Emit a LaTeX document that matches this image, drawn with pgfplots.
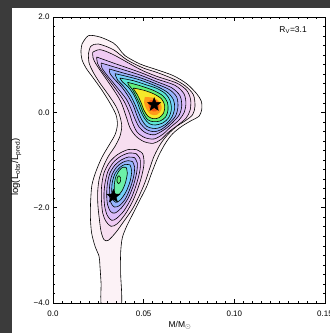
\documentclass[border=0pt]{standalone}
\usepackage{fontspec}
\setmainfont{Liberation Sans}
\usepackage{pgfplots}
\pgfplotsset{compat=1.18}
\definecolor{bgdark}{HTML}{3B3B3B}
\definecolor{cA}{HTML}{FCF2F6}
\definecolor{cB}{HTML}{F7DEF0}
\definecolor{cC}{HTML}{EFCAF3}
\definecolor{cD}{HTML}{DCBDF9}
\definecolor{cE}{HTML}{BCB2FB}
\definecolor{cF}{HTML}{96B4FC}
\definecolor{cG}{HTML}{74CFF9}
\definecolor{cH}{HTML}{5CE6D6}
\definecolor{cI}{HTML}{62EF78}
\definecolor{cM}{HTML}{6CF0A8}
\definecolor{cJ}{HTML}{F6E82A}
\definecolor{cK}{HTML}{FF9A1A}
\definecolor{cL}{HTML}{F55A12}
\pgfdeclareplotmark{fstar}{%
  \pgfpathmoveto{\pgfpointpolar{90}{\pgfplotmarksize}}%
  \pgfpathlineto{\pgfpointpolar{126}{0.42\pgfplotmarksize}}%
  \pgfpathlineto{\pgfpointpolar{162}{\pgfplotmarksize}}%
  \pgfpathlineto{\pgfpointpolar{198}{0.42\pgfplotmarksize}}%
  \pgfpathlineto{\pgfpointpolar{234}{\pgfplotmarksize}}%
  \pgfpathlineto{\pgfpointpolar{270}{0.42\pgfplotmarksize}}%
  \pgfpathlineto{\pgfpointpolar{306}{\pgfplotmarksize}}%
  \pgfpathlineto{\pgfpointpolar{342}{0.42\pgfplotmarksize}}%
  \pgfpathlineto{\pgfpointpolar{18}{\pgfplotmarksize}}%
  \pgfpathlineto{\pgfpointpolar{54}{0.42\pgfplotmarksize}}%
  \pgfpathclose
  \pgfusepathqfillstroke
}
\begin{document}
\begin{tikzpicture}
\useasboundingbox (0,0) rectangle (330bp,333bp);
\fill[bgdark] (0,0) rectangle (330bp,333bp);
\fill[white] (12bp,0) rectangle (330bp,325bp);
\begin{axis}[
  at={(53bp,30bp)}, anchor=south west, scale only axis,
  width=272bp, height=286bp,
  xmin=0, xmax=0.15, ymin=-4, ymax=2,
  xtick={0,0.05,0.1,0.15}, xticklabels={0.0,0.05,0.10,0.15},
  ytick={-4,-2,0,2}, yticklabels={−4.0,−2.0,0.0,2.0},
  minor x tick num=9, minor y tick num=9,
  tick align=inside,
  major tick length=4bp, minor tick length=2.2bp,
  tick style={black, line width=0.6bp},
  axis line style={line width=0.7bp},
  ticklabel style={font=\fontsize{8}{9}\selectfont},
  xticklabel style={yshift=-4bp},
  xlabel={M/M\textsubscript{\(\odot\)}},
  ylabel={log(L\textsubscript{obs}/L\textsubscript{pred})},
  xlabel style={font=\fontsize{8.5}{10}\selectfont, at={(axis description cs:0.467,-0.077)}, anchor=center},
  ylabel style={font=\fontsize{9.5}{11}\selectfont, at={(axis description cs:-0.135,0.475)}, anchor=center},
  axis on top,
  cont/.style={draw=black, line width=0.6bp, smooth, tension=0.5},
]
% L1
\addplot[cont, fill=cA] coordinates {
(0.0160,1.434)(0.0195,1.608)(0.0259,1.580)(0.0333,1.455)(0.0366,1.329)(0.0397,1.189)
(0.0480,1.014)(0.0572,0.895)(0.0664,0.769)(0.0737,0.601)(0.0792,0.392)(0.0818,0.231)
(0.0820,0.056)(0.0805,-0.084)(0.0765,-0.168)(0.0710,-0.294)(0.0660,-0.448)(0.0621,-0.643)
(0.0581,-0.923)(0.0544,-1.273)(0.0517,-1.552)(0.0480,-1.832)(0.0443,-2.112)(0.0406,-2.392)
(0.0382,-2.636)(0.0373,-2.951)(0.0373,-3.371)(0.0373,-4.1)(0.0272,-4.1)(0.0265,-3.580)
(0.0259,-3.231)(0.0254,-3.021)(0.0232,-2.811)(0.0213,-2.531)(0.0206,-2.182)(0.0208,-1.832)
(0.0215,-1.517)(0.0237,-1.238)(0.0268,-0.958)(0.0305,-0.713)(0.0342,-0.469)(0.0355,-0.259)
(0.0347,-0.049)(0.0314,0.196)(0.0268,0.476)(0.0222,0.720)(0.0182,0.930)(0.0160,1.105)
(0.0154,1.280)(0.0160,1.434)};
% L2
\addplot[cont, fill=cB] coordinates {
(0.0195,1.210)(0.0208,1.385)(0.0250,1.434)(0.0333,1.315)(0.0406,1.105)(0.0498,0.930)
(0.0572,0.839)(0.0664,0.699)(0.0728,0.559)(0.0774,0.371)(0.0783,0.126)(0.0770,-0.049)
(0.0733,-0.168)(0.0682,-0.294)(0.0636,-0.455)(0.0594,-0.657)(0.0557,-0.923)(0.0531,-1.203)
(0.0506,-1.483)(0.0474,-1.762)(0.0438,-2.028)(0.0392,-2.280)(0.0347,-2.517)(0.0305,-2.685)
(0.0281,-2.671)(0.0265,-2.497)(0.0256,-2.252)(0.0248,-1.972)(0.0246,-1.692)(0.0254,-1.413)
(0.0274,-1.168)(0.0305,-0.923)(0.0342,-0.713)(0.0369,-0.503)(0.0379,-0.294)(0.0369,-0.084)
(0.0347,0.126)(0.0305,0.371)(0.0256,0.629)(0.0219,0.860)(0.0199,1.035)(0.0195,1.210)};
% L3 upper
\addplot[cont, fill=cC] coordinates {
(0.0219,1.259)(0.0259,1.315)(0.0333,1.210)(0.0480,0.902)(0.0572,0.755)(0.0682,0.615)
(0.0737,0.462)(0.0759,0.266)(0.0756,0.042)(0.0733,-0.126)(0.0689,-0.266)(0.0636,-0.420)
(0.0594,-0.573)(0.0553,-0.650)(0.0502,-0.615)(0.0458,-0.503)(0.0425,-0.329)(0.0403,-0.084)
(0.0373,0.231)(0.0324,0.531)(0.0245,0.965)(0.0221,1.140)(0.0219,1.259)};
% L3 lower
\addplot[cont, fill=cC] coordinates {
(0.0461,-0.783)(0.0494,-0.867)(0.0502,-1.063)(0.0491,-1.308)(0.0469,-1.587)(0.0439,-1.867)
(0.0399,-2.133)(0.0355,-2.336)(0.0320,-2.392)(0.0292,-2.287)(0.0274,-2.112)(0.0267,-1.832)
(0.0268,-1.552)(0.0281,-1.273)(0.0311,-1.049)(0.0355,-0.888)(0.0412,-0.783)(0.0461,-0.783)};
% L4 upper
\addplot[cont, fill=cD] coordinates {
(0.0241,1.161)(0.0333,1.035)(0.0480,0.839)(0.0572,0.699)(0.0673,0.566)(0.0722,0.392)
(0.0733,0.182)(0.0722,-0.014)(0.0693,-0.168)(0.0649,-0.308)(0.0605,-0.462)(0.0557,-0.559)
(0.0507,-0.531)(0.0465,-0.420)(0.0439,-0.224)(0.0421,-0.014)(0.0392,0.231)(0.0342,0.510)
(0.0268,0.881)(0.0245,1.035)(0.0241,1.161)};
% L4 lower
\addplot[cont, fill=cD] coordinates {
(0.0458,-0.867)(0.0480,-0.979)(0.0480,-1.203)(0.0461,-1.497)(0.0432,-1.797)(0.0392,-2.063)
(0.0351,-2.224)(0.0324,-2.266)(0.0300,-2.168)(0.0285,-1.972)(0.0281,-1.727)(0.0287,-1.483)
(0.0303,-1.238)(0.0333,-1.049)(0.0373,-0.923)(0.0419,-0.853)(0.0458,-0.867)};
% L5 upper
\addplot[cont, fill=cE] coordinates {
(0.0265,1.035)(0.0351,0.937)(0.0480,0.783)(0.0572,0.643)(0.0654,0.517)(0.0700,0.350)
(0.0710,0.140)(0.0697,-0.049)(0.0664,-0.196)(0.0619,-0.350)(0.0561,-0.469)(0.0513,-0.434)
(0.0476,-0.315)(0.0450,-0.119)(0.0432,0.056)(0.0406,0.266)(0.0360,0.490)(0.0300,0.769)
(0.0270,0.930)(0.0265,1.035)};
% L5 lower
\addplot[cont, fill=cE] coordinates {
(0.0450,-0.951)(0.0465,-1.063)(0.0461,-1.273)(0.0443,-1.538)(0.0414,-1.804)(0.0377,-2.007)
(0.0342,-2.112)(0.0318,-2.084)(0.0301,-1.937)(0.0296,-1.727)(0.0300,-1.497)(0.0314,-1.273)
(0.0342,-1.105)(0.0379,-0.993)(0.0417,-0.937)(0.0450,-0.951)};
% L6 upper
\addplot[cont, fill=cF] coordinates {
(0.0311,0.909)(0.0388,0.825)(0.0480,0.727)(0.0572,0.594)(0.0642,0.476)(0.0682,0.322)
(0.0689,0.112)(0.0675,-0.084)(0.0638,-0.238)(0.0596,-0.364)(0.0557,-0.406)(0.0517,-0.364)
(0.0483,-0.238)(0.0461,-0.049)(0.0443,0.140)(0.0415,0.336)(0.0379,0.531)(0.0333,0.720)
(0.0313,0.825)(0.0311,0.909)};
% L6 lower
\addplot[cont, fill=cF] coordinates {
(0.0439,-1.035)(0.0450,-1.147)(0.0445,-1.343)(0.0426,-1.587)(0.0399,-1.818)(0.0366,-1.958)
(0.0338,-1.986)(0.0320,-1.902)(0.0311,-1.727)(0.0313,-1.517)(0.0325,-1.315)(0.0351,-1.147)
(0.0384,-1.049)(0.0415,-1.014)(0.0439,-1.035)};
% L7 upper
\addplot[cont, fill=cG] coordinates {
(0.0342,0.811)(0.0406,0.755)(0.0480,0.678)(0.0572,0.545)(0.0631,0.420)(0.0664,0.266)
(0.0671,0.091)(0.0656,-0.098)(0.0621,-0.252)(0.0581,-0.329)(0.0550,-0.336)(0.0517,-0.294)
(0.0491,-0.168)(0.0471,0.000)(0.0450,0.182)(0.0428,0.350)(0.0393,0.531)(0.0355,0.685)
(0.0342,0.811)};
% L7 lower
\addplot[cont, fill=cG] coordinates {
(0.0425,-1.105)(0.0434,-1.231)(0.0425,-1.448)(0.0403,-1.664)(0.0373,-1.832)(0.0347,-1.888)
(0.0329,-1.818)(0.0324,-1.657)(0.0327,-1.469)(0.0342,-1.287)(0.0369,-1.154)(0.0399,-1.091)
(0.0425,-1.105)};
% L8 upper
\addplot[cont, fill=cH] coordinates {
(0.0369,0.720)(0.0443,0.664)(0.0517,0.573)(0.0572,0.503)(0.0620,0.392)(0.0645,0.252)
(0.0653,0.070)(0.0638,-0.112)(0.0605,-0.224)(0.0564,-0.266)(0.0531,-0.238)(0.0504,-0.126)
(0.0483,0.028)(0.0465,0.210)(0.0443,0.385)(0.0415,0.531)(0.0382,0.643)(0.0369,0.720)};
% L8 lower
\addplot[cont, fill=cM] coordinates {
(0.0403,-1.154)(0.0410,-1.273)(0.0399,-1.483)(0.0379,-1.657)(0.0355,-1.748)(0.0340,-1.692)
(0.0338,-1.524)(0.0347,-1.343)(0.0366,-1.217)(0.0384,-1.154)(0.0403,-1.154)};
% L9 lower (small)
\addplot[cont, fill=cI] coordinates {
(0.0364,-1.329)(0.0373,-1.378)(0.0371,-1.462)(0.0362,-1.497)(0.0353,-1.448)(0.0355,-1.364)
(0.0364,-1.329)};
% L9 upper
\addplot[cont, fill=cI] coordinates {
(0.0412,0.629)(0.0480,0.559)(0.0553,0.462)(0.0605,0.350)(0.0631,0.210)(0.0634,0.042)
(0.0621,-0.098)(0.0590,-0.182)(0.0553,-0.196)(0.0522,-0.154)(0.0498,-0.014)(0.0480,0.161)
(0.0458,0.336)(0.0436,0.490)(0.0417,0.573)(0.0412,0.629)};
% L10 upper
\addplot[cont, fill=cJ] coordinates {
(0.0443,0.510)(0.0502,0.462)(0.0557,0.385)(0.0599,0.280)(0.0616,0.140)(0.0610,-0.014)
(0.0585,-0.112)(0.0553,-0.133)(0.0524,-0.084)(0.0502,0.042)(0.0485,0.210)(0.0465,0.371)
(0.0449,0.462)(0.0443,0.510)};
% core shading
\addplot[draw=none, fill=cK, smooth, tension=0.6] coordinates {
(0.0507,0.322)(0.0557,0.301)(0.0590,0.210)(0.0599,0.070)(0.0574,-0.049)(0.0539,-0.042)
(0.0515,0.070)(0.0502,0.210)(0.0507,0.322)};
\addplot[draw=none, fill=cL, smooth, tension=0.6] coordinates {
(0.0535,0.252)(0.0572,0.245)(0.0586,0.126)(0.0568,0.021)(0.0539,0.042)(0.0526,0.161)
(0.0535,0.252)};
% peaks
\addplot[only marks, mark=fstar, mark size=7bp, mark options={fill=black, draw=black, line width=0.4bp}]
  coordinates {(0.0558,0.161) (0.0333,-1.762)};
\node[font=\fontsize{8.5}{10}\selectfont] at (axis cs:0.1324,1.73) {R\textsubscript{V}=3.1};
\end{axis}
\end{tikzpicture}
\end{document}
